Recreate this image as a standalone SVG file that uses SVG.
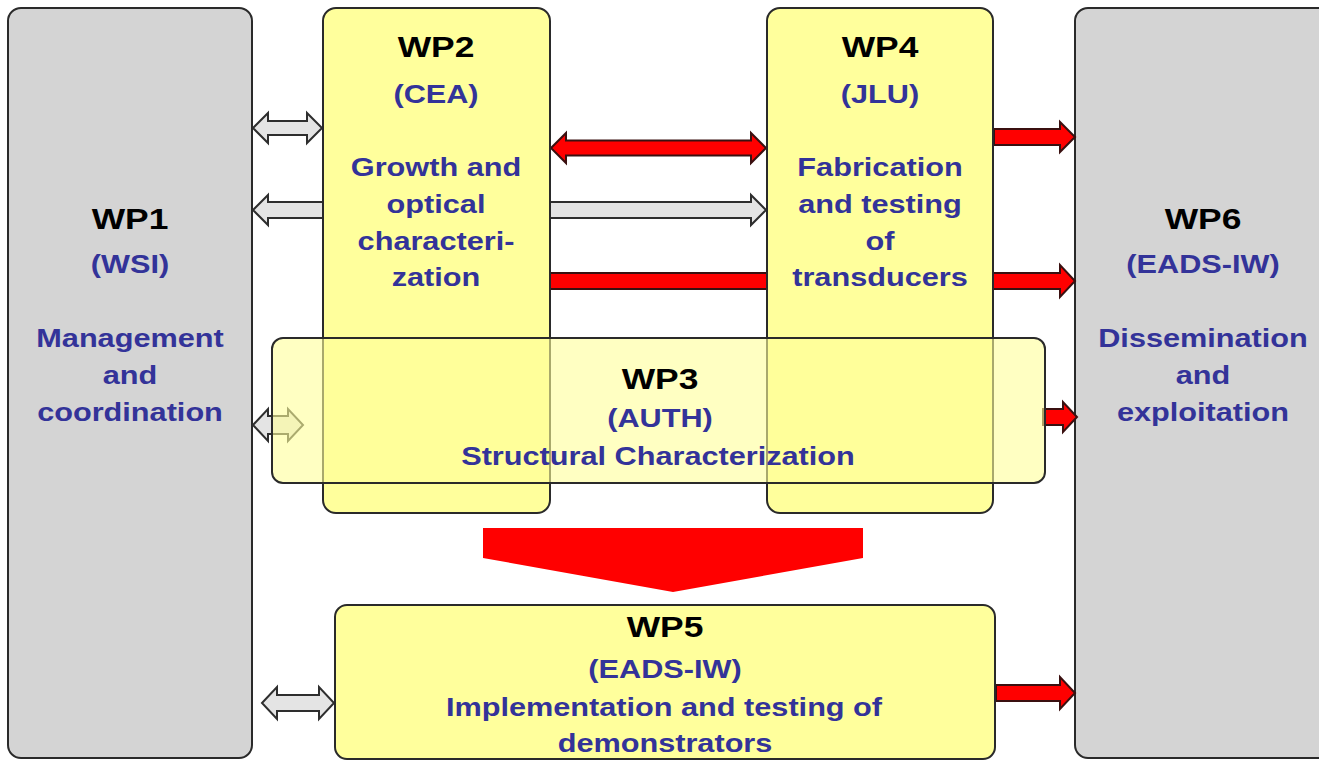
<svg xmlns="http://www.w3.org/2000/svg" width="1319" height="761" viewBox="0 0 1319 761">
<style>
.gbox{fill:#d4d4d4;stroke:#2a2a2a;stroke-width:2}
.ybox{fill:#ffff9c;stroke:#2a2a2a;stroke-width:2}
.tbox{fill:#ffff99;fill-opacity:0.6;stroke:#2a2a2a;stroke-width:2}
.garr{fill:#e4e4e4;stroke:#2e2e2e;stroke-width:2;stroke-linejoin:miter}
.rarr{fill:#ff0000;stroke:#3a1010;stroke-width:2;stroke-linejoin:miter}
text{font-family:"Liberation Sans",Arial,sans-serif;font-weight:bold;text-anchor:middle}
.h{font-size:30px;fill:#000}
.s{font-size:26px;fill:#333399}
</style>
<rect width="1319" height="761" fill="#ffffff"/>
<g id="wp1">
<rect class="gbox" x="8" y="8" width="244" height="750" rx="13"/>
<text class="h" transform="translate(130 229) scale(1.18 1)">WP1</text>
<text class="s" transform="translate(130 273) scale(1.18 1)">(WSI)</text>
<text class="s" transform="translate(130 347) scale(1.18 1)">Management</text>
<text class="s" transform="translate(130 384) scale(1.18 1)">and</text>
<text class="s" transform="translate(130 421) scale(1.18 1)">coordination</text>
</g>
<g id="wp6">
<rect class="gbox" x="1075" y="8" width="262" height="750" rx="13"/>
<text class="h" transform="translate(1203 229) scale(1.18 1)">WP6</text>
<text class="s" transform="translate(1203 273) scale(1.18 1)">(EADS-IW)</text>
<text class="s" transform="translate(1203 347) scale(1.18 1)">Dissemination</text>
<text class="s" transform="translate(1203 384) scale(1.18 1)">and</text>
<text class="s" transform="translate(1203 421) scale(1.18 1)">exploitation</text>
</g>
<g id="connectors">
<polygon class="garr" points="253,128 268,113 268,121 307,121 307,113 322,128 307,143 307,135 268,135 268,143"/>
<polygon class="garr" points="253,210 268,195 268,202 751,202 751,195 766,210 751,225 751,218 268,218 268,225"/>
<polygon class="rarr" points="551,148 566,133 566,140.5 751,140.5 751,133 766,148 751,163 751,155.5 566,155.5 566,163"/>
<polygon class="rarr" points="994,129 1060,129 1060,122 1075,137 1060,152 1060,145 994,145"/>
<polygon class="rarr" points="440,273 1060,273 1060,265 1075,281 1060,297 1060,289 440,289"/>
<polygon class="garr" points="253,425 268,409 268,416 288,416 288,409 303,425 288,441 288,434 268,434 268,441"/>
<polygon class="rarr" points="1043,409 1063,409 1063,402 1077,417 1063,432 1063,425 1043,425"/>
<polygon class="garr" points="262,703 277,687 277,695 319,695 319,687 334,703 319,719 319,711 277,711 277,719"/>
<polygon class="rarr" points="996,685 1060,685 1060,677 1075,693 1060,709 1060,701 996,701"/>
<polygon fill="#ff0000" points="483,528 863,528 863,558 673,592 483,558"/>
</g>
<g id="wp2">
<rect class="ybox" x="323" y="8" width="227" height="505" rx="13"/>
<text class="h" transform="translate(436 57) scale(1.18 1)">WP2</text>
<text class="s" transform="translate(436 103) scale(1.18 1)">(CEA)</text>
<text class="s" transform="translate(436 176) scale(1.18 1)">Growth and</text>
<text class="s" transform="translate(436 213) scale(1.18 1)">optical</text>
<text class="s" transform="translate(436 250) scale(1.18 1)">characteri-</text>
<text class="s" transform="translate(436 286) scale(1.18 1)">zation</text>
</g>
<g id="wp4">
<rect class="ybox" x="767" y="8" width="226" height="505" rx="13"/>
<text class="h" transform="translate(880 57) scale(1.18 1)">WP4</text>
<text class="s" transform="translate(880 103) scale(1.18 1)">(JLU)</text>
<text class="s" transform="translate(880 176) scale(1.18 1)">Fabrication</text>
<text class="s" transform="translate(880 213) scale(1.18 1)">and testing</text>
<text class="s" transform="translate(880 250) scale(1.18 1)">of</text>
<text class="s" transform="translate(880 286) scale(1.18 1)">transducers</text>
</g>
<g id="wp3">
<rect class="tbox" x="272" y="338" width="773" height="145" rx="11"/>
<text class="h" transform="translate(660 389) scale(1.18 1)">WP3</text>
<text class="s" transform="translate(660 427) scale(1.18 1)">(AUTH)</text>
<text class="s" transform="translate(658 465) scale(1.18 1)">Structural Characterization</text>
</g>
<g id="wp5">
<rect class="ybox" x="335" y="605" width="660" height="154" rx="12"/>
<text class="h" transform="translate(665 637) scale(1.18 1)">WP5</text>
<text class="s" transform="translate(665 678) scale(1.18 1)">(EADS-IW)</text>
<text class="s" transform="translate(664 716) scale(1.18 1)">Implementation and testing of</text>
<text class="s" transform="translate(665 752) scale(1.18 1)">demonstrators</text>
</g>
</svg>
